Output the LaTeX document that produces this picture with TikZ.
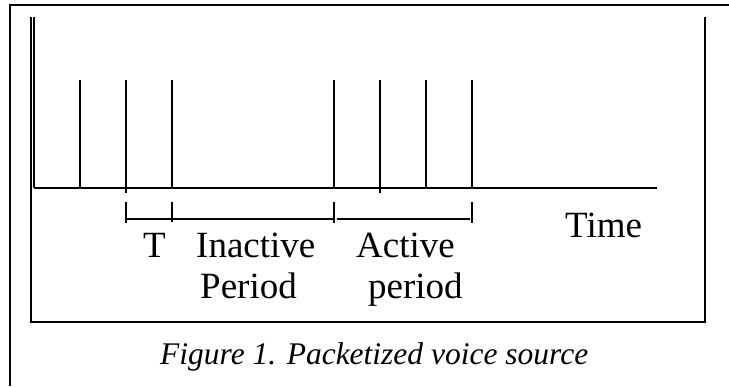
\documentclass[tikz,border=0pt]{standalone}
\usepackage{fontspec}
\setmainfont{Liberation Serif}
\begin{document}
\begin{tikzpicture}[x=1pt,y=-1pt,
  frame/.style={line width=2.5pt},
  spike/.style={line width=1.9pt},
  tickline/.style={line width=1.7pt},
  lbl/.style={anchor=base west,inner sep=0pt,font=\fontsize{37}{44}\selectfont},
  captext/.style={anchor=base west,inner sep=0pt,font=\fontsize{31.5}{38}\selectfont\itshape}]
\useasboundingbox (0,0) rectangle (729,386);
% outer frame (top and left)
\draw[frame] (10,386) -- (10,5) -- (729,5);
% inner box (left, bottom, right)
\draw[frame] (31,17) -- (31,322) -- (705,322) -- (705,17);
\draw[line width=1.1pt] (34,17) -- (34,188);
% time axis
\draw[frame] (34,188) -- (657,188);
% spikes
\foreach \x in {80,172,334,426,472} \draw[spike] (\x,80) -- (\x,188);
\foreach \x in {126,380} \draw[spike] (\x,80) -- (\x,193);
% brackets
\draw[tickline] (126,219) -- (172,219);
\draw[tickline] (172,219) -- (334,219);
\draw[tickline] (337,219) -- (470,219);
\foreach \x in {126,334,472} \draw[tickline] (\x,202) -- (\x,223);
\draw[line width=2.4pt] (172,202) -- (172,222);
% labels
\node[lbl] (t) at (143,257) {T};
\node[lbl] (inact) at (196,257) {Inactive};
\node[lbl] (per1) at (200,298) {Period};
\node[lbl] (act) at (356,257) {Active};
\node[lbl] (per2) at (368,298) {period};
\node[lbl] (time) at (565,237) {Time};
\node[captext] (caption) at (160,364) {Figure 1. Packetized voice source};
\end{tikzpicture}
\end{document}
